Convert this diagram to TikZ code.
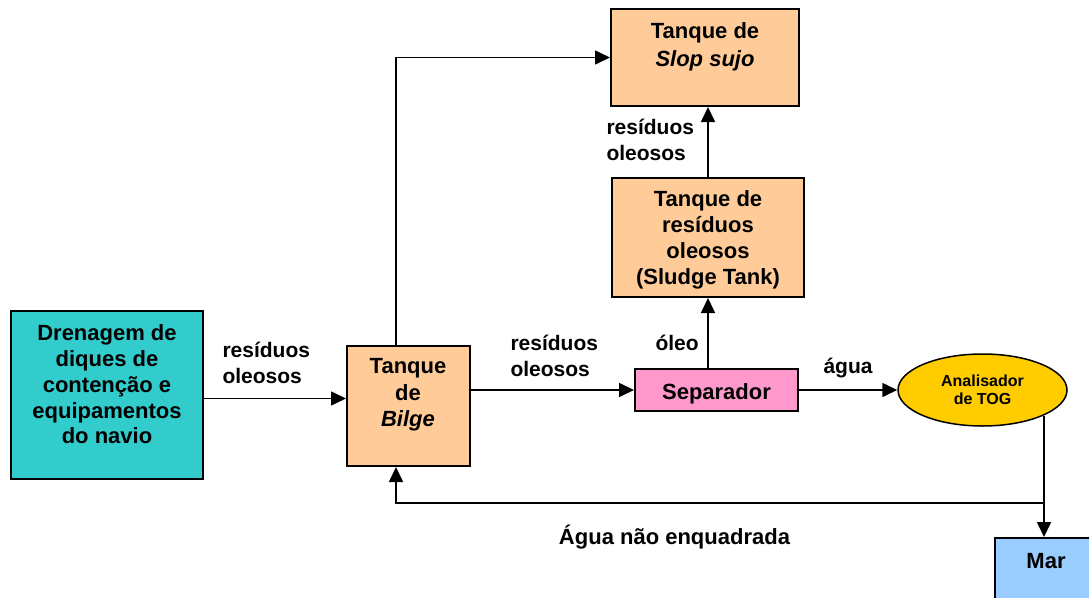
\documentclass[tikz,border=0pt]{standalone}
\usepackage{fontspec}
\setmainfont{Liberation Sans}
\usetikzlibrary{arrows.meta,shapes.geometric}
\definecolor{drencolor}{HTML}{33CCCC}
\definecolor{tankcolor}{HTML}{FFCC99}
\definecolor{sepcolor}{HTML}{FF99CC}
\definecolor{togcolor}{HTML}{FFCC00}
\definecolor{marcolor}{HTML}{99CCFF}

\begin{document}
\begin{tikzpicture}[x=1pt,y=-1pt,
  box/.style={draw=black, line width=2pt, inner sep=0pt},
  boxtext/.style={align=center, font=\fontsize{22}{26}\selectfont\bfseries},
  flowlabel/.style={align=left, anchor=west, font=\fontsize{21}{25.5}\selectfont\bfseries},
  arr/.style={line width=1.6pt, -{Triangle[length=15pt,width=14pt]}},
  pipe/.style={line width=1.6pt}]
\clip (0,0) rectangle (1089,597);

% boxes
\node[box, fill=drencolor, minimum width=192, minimum height=168] (dren) at (107,394.5) {};
\node[box, fill=tankcolor, minimum width=123, minimum height=120] (bilge) at (408.5,406) {};
\node[box, fill=tankcolor, minimum width=188, minimum height=97] (slop) at (705,57.5) {};
\node[box, fill=tankcolor, minimum width=192, minimum height=119] (sludge) at (708,237.5) {};
\node[box, fill=sepcolor, minimum width=163, minimum height=42, boxtext] (sep) at (716.5,390)
  {\raisebox{-3.5pt}[\height][\depth]{Separador}};
\node[ellipse, draw=black, line width=1.5pt, fill=togcolor, minimum width=169, minimum height=72, inner sep=0pt,
  align=center, font=\fontsize{16}{18}\selectfont\bfseries] (tog) at (982.5,390) {Analisador\\de TOG};
\node[box, fill=marcolor, minimum width=104, minimum height=100] (mar) at (1047,588) {};

% texts in the boxes
\node[boxtext, font=\fontsize{22}{25.75}\selectfont\bfseries] (drentext) at (107,384.5)
  {Drenagem de\\diques de\\contenção e\\equipamentos\\do navio};
\node[boxtext, font=\fontsize{22}{26.5}\selectfont\bfseries] (bilgetext) at (408,395)
  {Tanque\\de\\\textit{Bilge}};
\node[boxtext, font=\fontsize{22}{28}\selectfont\bfseries] (sloptext) at (705,47)
  {Tanque de\\\textit{Slop sujo}};
\node[boxtext] (sludgetext) at (708,239.5)
  {Tanque de\\resíduos\\oleosos\\(Sludge Tank)};
\node[boxtext] (martext) at (1046,561) {Mar};

% connectors
\coordinate (bx) at (396,0);
\coordinate (drop) at (1044,503);
\draw[arr] ([yshift=-4pt]dren.east) -- ([yshift=-4pt]dren.east -| bilge.west);
\draw[arr] (bx |- bilge.north) -- (bx |- slop.west) -- (slop.west);
\draw[arr] (bilge.east |- sep.west) -- (sep.west);
\draw[arr] (sludge.south |- sep.north) -- (sludge.south);
\draw[arr] (sludge.north) -- (slop.south -| sludge.north);
\draw[arr] (sep.east) -- (tog.west);
\draw[pipe] (tog.south east -| drop) -- (drop);
\draw[arr] (drop) -- (mar.north -| drop);
\draw[arr] (drop) -- (drop -| bx) -- (bx |- bilge.south);

% labels
\node[flowlabel] (lbl1) at (219,363) {resíduos\\oleosos};
\node[flowlabel] (lbl2) at (507,356) {resíduos\\oleosos};
\node[flowlabel] (lbl3) at (603,140) {resíduos\\oleosos};
\node[flowlabel] (oleo) at (652,343) {óleo};
\node[flowlabel] (agua) at (820,368) {água};
\node[font=\fontsize{22}{26}\selectfont\bfseries] (naoenq) at (674.5,537) {Água não enquadrada};
\end{tikzpicture}
\end{document}
